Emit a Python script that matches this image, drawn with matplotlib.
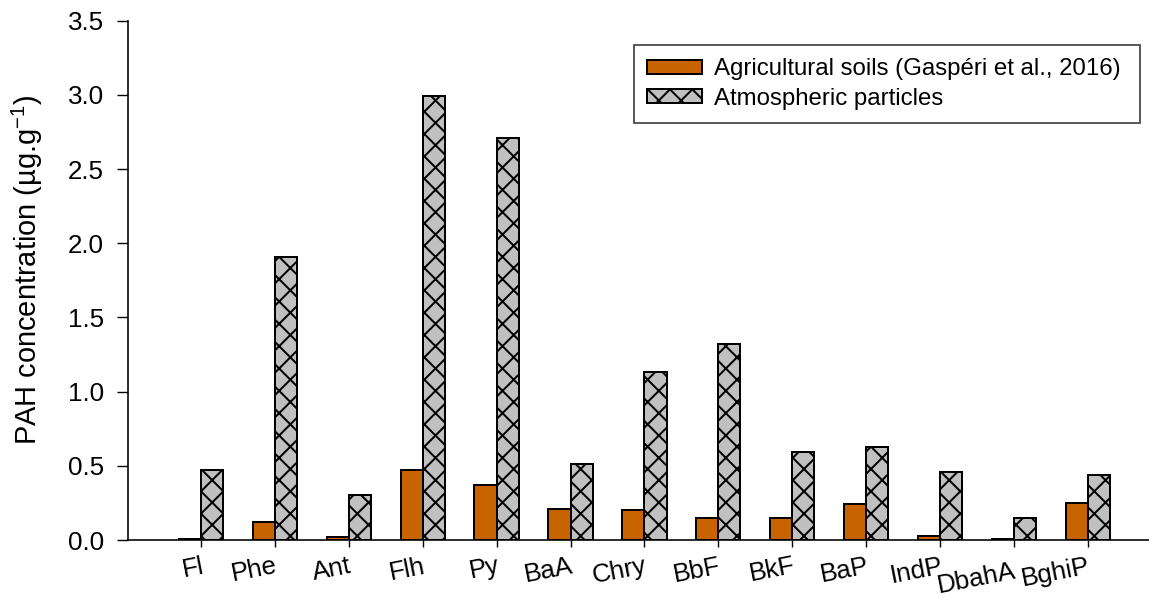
import matplotlib.pyplot as plt
import numpy as np

compounds = ['Fl', 'Phe', 'Ant', 'Flh', 'Py', 'BaA', 'Chry', 'BbF', 'BkF', 'BaP', 'IndP', 'DbahA', 'BghiP']
soils = [0.01, 0.12, 0.02, 0.47, 0.37, 0.21, 0.205, 0.15, 0.15, 0.24, 0.03, 0.01, 0.25]
atmos = [0.47, 1.91, 0.30, 2.99, 2.71, 0.51, 1.13, 1.32, 0.59, 0.63, 0.46, 0.15, 0.44]
y_ticks = [0.0, 0.5, 1.0, 1.5, 2.0, 2.5, 3.0, 3.5]

# dpi picked so the 'xx' hatch spacing comes out close to the original
DPI = 134


def pt(px):
    # pixel size -> points at this dpi
    return px * 72 / DPI


plt.rcParams['font.family'] = ['Liberation Sans', 'DejaVu Sans']
plt.rcParams['mathtext.fontset'] = 'custom'
plt.rcParams['mathtext.rm'] = 'Liberation Sans'
plt.rcParams['mathtext.default'] = 'regular'
plt.rcParams['hatch.linewidth'] = pt(2)

fig = plt.figure(figsize=(1149 / DPI, 594 / DPI), dpi=DPI)
ax = fig.add_axes([128 / 1149, 1 - 540 / 594, 1 - 128 / 1149, (540 - 20.7) / 594])

x = np.arange(len(compounds))
w = 0.3
ax.bar(x - w / 2, soils, w, color='#c86400', edgecolor='black', linewidth=pt(2),
       label='Agricultural soils (Gaspéri et al., 2016)')
ax.bar(x + w / 2, atmos, w, color='#c0c0c0', edgecolor='black', linewidth=pt(2),
       hatch='xx', label='Atmospheric particles')

ax.set_xlim(-0.99, 12.83)
ax.set_ylim(0, 3.5)
ax.set_yticks(y_ticks)
ax.set_yticklabels([f'{v:.1f}' for v in y_ticks], fontsize=pt(26))
ax.set_xticks(x)
ax.set_xticklabels(compounds, fontsize=pt(26), rotation=11, ha='right', rotation_mode='anchor')

ax.spines['top'].set_visible(False)
ax.spines['right'].set_visible(False)
ax.spines['left'].set_linewidth(pt(1.6))
ax.spines['bottom'].set_linewidth(pt(1.6))
ax.tick_params(axis='y', length=pt(11), width=pt(1.4), pad=pt(13))
ax.tick_params(axis='x', length=pt(7), width=pt(1.4), pad=pt(7))

# DbahA sits a little lower than its neighbours in the original
ax.xaxis.get_major_ticks()[compounds.index('DbahA')].set_pad(pt(12))

ax.set_ylabel('PAH concentration (µg.g$^{-1}$)', fontsize=pt(29))
ax.yaxis.set_label_coords(-0.081, 0.52)

leg = ax.legend(loc='upper left', bbox_to_anchor=(0.4956, 0.79, 0.4954, 0.163), mode='expand',
                fontsize=pt(24), frameon=True, fancybox=False, edgecolor='black',
                handlelength=2.3, handleheight=0.55, handletextpad=0.5,
                labelspacing=0.3, borderpad=0.55, borderaxespad=0)
leg.get_frame().set_linewidth(pt(1.6))

fig.savefig('out.png', dpi=DPI)
